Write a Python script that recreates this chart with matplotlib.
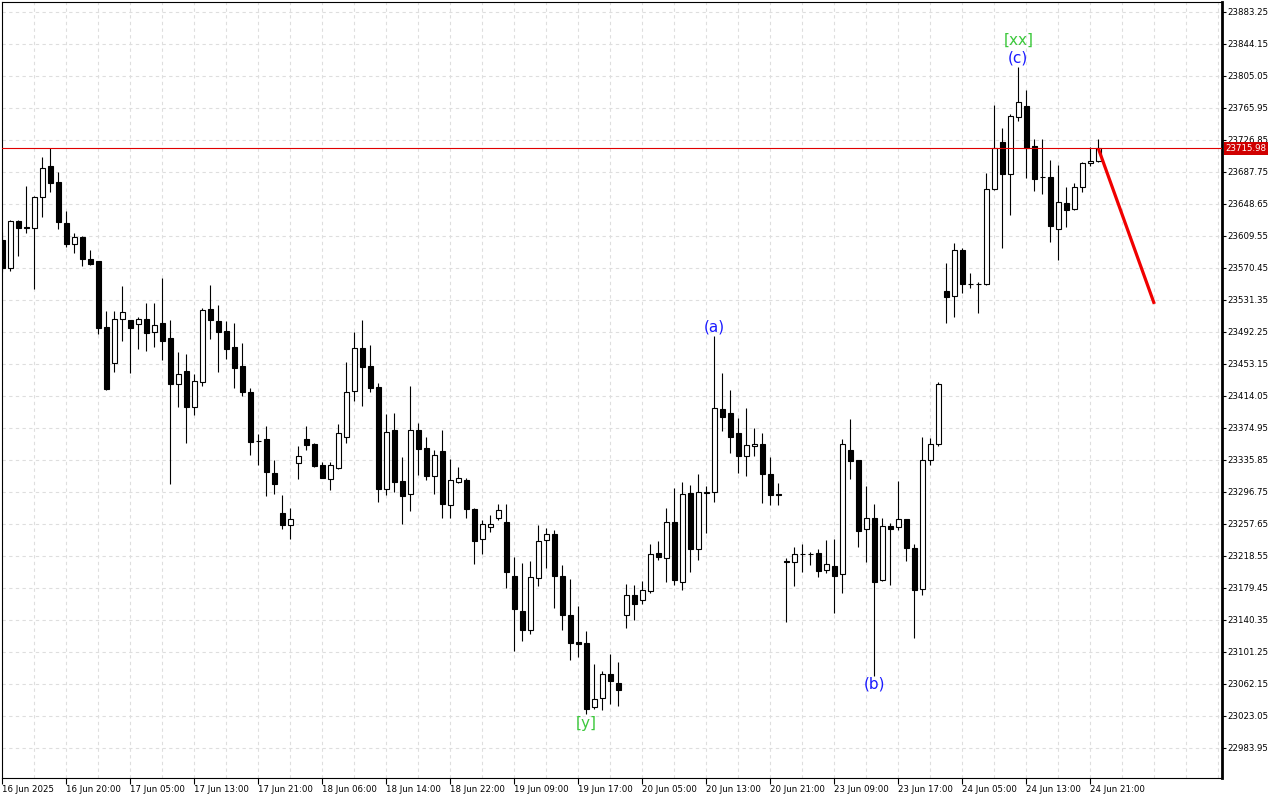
import matplotlib
matplotlib.use("Agg")
import matplotlib.pyplot as plt
import matplotlib.transforms as mtransforms

# hourly candles, 16 Jun 2025 12:00 .. 24 Jun 2025 21:00
opens = [
    23604.0, 23569.4, 23627.2, 23619.6, 23618.4, 23656.2, 23694.1, 23674.5, 23624.4, 23598.8,
    23607.8, 23580.4, 23578.2, 23497.4, 23453.3, 23507.1, 23505.9, 23501.0, 23507.5, 23491.2,
    23502.6, 23483.9, 23427.7, 23444.0, 23399.6, 23430.2, 23519.7, 23505.1, 23492.5, 23473.3,
    23450.0, 23418.3, 23358.5, 23360.9, 23319.3, 23270.4, 23255.4, 23331.9, 23360.9, 23354.8,
    23329.1, 23311.6, 23325.1, 23362.9, 23419.2, 23471.7, 23449.7, 23424.1, 23300.1, 23371.5,
    23309.2, 23293.3, 23371.5, 23349.5, 23316.0, 23346.2, 23280.6, 23308.0, 23310.8, 23275.3,
    23238.3, 23253.0, 23264.0, 23259.1, 23193.1, 23150.3, 23127.1, 23191.4, 23237.1, 23244.4,
    23193.1, 23145.5, 23112.5, 23111.2, 23033.0, 23044.0, 23073.7, 23062.7, 23145.5, 23169.9,
    23163.8, 23175.2, 23221.2, 23215.1, 23259.5, 23186.5, 23294.9, 23226.1, 23296.0, 23295.7,
    23397.5, 23392.3, 23367.9, 23339.8, 23351.9, 23354.4, 23318.1, 23293.5, 23211.5, 23210.2,
    23221.0, 23220.7, 23221.2, 23200.4, 23205.4, 23196.5, 23347.4, 23335.2, 23250.5, 23264.3,
    23189.0, 23254.6, 23253.0, 23262.8, 23227.7, 23178.0, 23334.9, 23354.4, 23541.7, 23536.0,
    23591.8, 23550.5, 23550.0, 23549.9, 23666.0, 23723.4, 23685.1, 23754.0, 23767.8, 23718.9,
    23681.3, 23681.0, 23617.9, 23648.9, 23642.3, 23668.4, 23697.8, 23700.2,
]
highs = [
    23614.0, 23628.4, 23628.4, 23670.0, 23657.8, 23705.1, 23716.1, 23686.7, 23639.5, 23612.2,
    23609.0, 23591.8, 23579.0, 23517.3, 23517.3, 23547.8, 23506.5, 23509.6, 23526.9, 23526.9,
    23557.6, 23505.9, 23467.2, 23464.7, 23440.0, 23521.3, 23549.0, 23524.6, 23505.1, 23502.6,
    23478.2, 23422.8, 23366.6, 23376.4, 23334.9, 23292.5, 23276.6, 23352.3, 23376.4, 23355.5,
    23332.4, 23332.4, 23378.8, 23455.3, 23491.6, 23505.9, 23475.4, 23428.9, 23391.1, 23392.7,
    23338.9, 23425.3, 23380.4, 23362.9, 23347.8, 23371.9, 23336.4, 23326.7, 23313.3, 23276.2,
    23261.5, 23268.0, 23281.4, 23281.4, 23216.3, 23209.7, 23211.4, 23255.8, 23251.8, 23249.3,
    23206.9, 23189.5, 23156.8, 23126.3, 23085.6, 23077.4, 23098.2, 23088.4, 23183.3, 23182.1,
    23187.4, 23232.6, 23236.2, 23276.2, 23300.6, 23308.0, 23304.7, 23318.1, 23303.1, 23486.7,
    23441.5, 23420.8, 23386.2, 23398.4, 23373.9, 23367.9, 23338.9, 23306.8, 23215.5, 23228.6,
    23232.2, 23223.2, 23226.1, 23237.1, 23239.1, 23360.5, 23385.3, 23335.8, 23303.5, 23281.4,
    23264.7, 23257.9, 23309.6, 23263.3, 23232.6, 23363.3, 23361.7, 23430.9, 23575.6, 23600.7,
    23593.9, 23563.3, 23553.1, 23686.3, 23768.6, 23740.5, 23757.6, 23815.1, 23787.0, 23727.5,
    23727.5, 23701.8, 23695.3, 23668.4, 23673.3, 23699.0, 23717.3, 23727.5,
]
lows = [
    23565.0, 23566.5, 23584.8, 23612.2, 23544.5, 23632.5, 23663.0, 23617.5, 23595.8, 23587.8,
    23572.2, 23573.8, 23488.8, 23421.1, 23443.1, 23481.0, 23441.9, 23471.2, 23468.7, 23473.6,
    23457.7, 23306.2, 23400.3, 23356.3, 23390.5, 23426.0, 23483.1, 23442.4, 23458.6, 23423.5,
    23413.8, 23341.3, 23329.1, 23291.6, 23294.1, 23250.9, 23239.1, 23312.4, 23347.8, 23327.0,
    23313.0, 23298.9, 23324.5, 23356.3, 23407.7, 23401.6, 23418.7, 23284.3, 23292.8, 23296.5,
    23257.4, 23273.3, 23317.3, 23310.8, 23294.1, 23264.7, 23264.7, 23307.5, 23264.7, 23208.5,
    23220.7, 23246.9, 23261.5, 23179.2, 23102.2, 23113.7, 23122.9, 23180.9, 23203.6, 23154.8,
    23127.1, 23090.5, 23094.1, 23024.5, 23030.6, 23029.4, 23036.7, 23034.3, 23129.6, 23139.4,
    23158.9, 23173.1, 23213.4, 23186.5, 23182.1, 23176.0, 23198.7, 23213.4, 23246.4, 23284.3,
    23371.0, 23344.1, 23319.7, 23316.0, 23340.5, 23283.1, 23280.6, 23280.6, 23137.6, 23181.6,
    23198.7, 23207.3, 23192.6, 23196.8, 23148.7, 23173.3, 23311.7, 23229.3, 23211.0, 23071.7,
    23187.4, 23182.9, 23250.0, 23212.2, 23118.1, 23170.6, 23329.5, 23352.7, 23502.2, 23510.3,
    23539.6, 23545.0, 23515.2, 23549.3, 23665.1, 23594.6, 23635.0, 23749.8, 23680.2, 23664.3,
    23660.6, 23601.9, 23579.2, 23620.3, 23641.1, 23662.3, 23694.8, 23699.8,
]
closes = [
    23570.0, 23627.2, 23619.1, 23618.4, 23656.2, 23691.6, 23674.0, 23625.6, 23598.8, 23607.4,
    23580.4, 23575.0, 23496.9, 23422.3, 23507.1, 23515.6, 23496.1, 23507.1, 23490.7, 23499.8,
    23480.2, 23427.7, 23440.0, 23399.6, 23431.9, 23518.1, 23506.6, 23492.0, 23471.2, 23448.0,
    23418.7, 23357.6, 23358.0, 23320.6, 23306.3, 23256.2, 23263.1, 23340.1, 23353.9, 23328.2,
    23313.6, 23328.7, 23367.9, 23417.9, 23471.7, 23449.2, 23423.6, 23300.1, 23369.8, 23308.7,
    23291.6, 23371.5, 23349.0, 23316.0, 23341.0, 23281.8, 23310.4, 23312.9, 23275.7, 23236.6,
    23256.6, 23256.6, 23273.8, 23197.9, 23152.8, 23127.1, 23191.9, 23235.9, 23244.4, 23193.1,
    23146.2, 23112.0, 23110.1, 23030.6, 23042.8, 23073.7, 23064.8, 23053.8, 23169.9, 23158.9,
    23176.0, 23220.0, 23217.1, 23259.5, 23188.2, 23293.3, 23226.1, 23295.7, 23295.2, 23398.4,
    23388.1, 23362.9, 23340.5, 23353.2, 23355.1, 23318.5, 23292.8, 23293.0, 23210.5, 23220.0,
    23220.0, 23220.3, 23199.9, 23207.8, 23193.9, 23354.4, 23334.4, 23248.8, 23264.3, 23185.8,
    23254.6, 23250.5, 23262.8, 23228.1, 23176.7, 23335.2, 23354.4, 23427.7, 23534.8, 23591.8,
    23550.6, 23550.0, 23550.5, 23666.0, 23716.1, 23685.1, 23755.2, 23772.3, 23716.8, 23679.0,
    23680.8, 23621.5, 23650.1, 23641.1, 23668.4, 23697.8, 23700.2, 23715.98,
]

time_labels = [
    "16 Jun 2025", "16 Jun 20:00", "17 Jun 05:00", "17 Jun 13:00", "17 Jun 21:00",
    "18 Jun 06:00", "18 Jun 14:00", "18 Jun 22:00", "19 Jun 09:00", "19 Jun 17:00",
    "20 Jun 05:00", "20 Jun 13:00", "20 Jun 21:00", "23 Jun 09:00", "23 Jun 17:00",
    "24 Jun 05:00", "24 Jun 13:00", "24 Jun 21:00",
]
price_ticks = [
    22983.95, 23023.05, 23062.15, 23101.25, 23140.35, 23179.45, 23218.55, 23257.65,
    23296.75, 23335.85, 23374.95, 23414.05, 23453.15, 23492.25, 23531.35, 23570.45,
    23609.55, 23648.65, 23687.75, 23726.85, 23765.95, 23805.05, 23844.15, 23883.25,
]
current_price = 23715.98

# wave marks: (bar, label, above/below, offset in points, colour)
wave_marks = [
    (127, "[xx]", "high", 19.5, "#3cc83c"),
    (127, "(c)", "high", 6.5, "#1a1aff"),
    (89, "(a)", "high", 6.5, "#1a1aff"),
    (109, "(b)", "low", -6, "#1a1aff"),
    (73, "[y]", "low", -6.5, "#3cc83c"),
]
forecast_bars = [137, 144]
forecast_prices = [23715.98, 23526.0]

fig = plt.figure(figsize=(12.8, 8), dpi=100)
ax = fig.add_axes([2 / 1280, 22 / 800, 1220 / 1280, 776 / 800])

x = list(range(len(opens)))
ax.vlines(x, lows, highs, color="black", linewidth=0.8, zorder=2)
bottoms = [min(o, c) for o, c in zip(opens, closes)]
heights = [abs(c - o) for o, c in zip(opens, closes)]
faces = ["white" if c >= o else "black" for o, c in zip(opens, closes)]
ax.bar(x, heights, bottom=bottoms, width=0.62, color=faces,
       edgecolor="black", linewidth=0.8, zorder=3)

ax.axhline(current_price, color="#e00000", linewidth=0.8, zorder=4)
ax.plot(forecast_bars, forecast_prices, color="#f00000", linewidth=2.3,
        solid_capstyle="butt", zorder=5)

for bar, label, side, off, col in wave_marks:
    y = highs[bar] if side == "high" else lows[bar]
    ax.annotate(label, (bar, y), xytext=(0, off), textcoords="offset points",
                ha="center", va="center", color=col, fontsize=11, zorder=6)

ax.set_xlim(-0.04, 152.46)
ax.set_ylim(22946.7, 23894.9)

ax.set_xticks(range(0, 8 * len(time_labels), 8))
ax.set_xticklabels(time_labels)
ax.set_xticks(range(0, 153, 4), minor=True)
for t in ax.get_xticklabels():
    t.set_horizontalalignment("left")
ax.tick_params(axis="x", which="major", direction="out", length=4, width=0.8,
               pad=1, labelsize=6.2)
ax.tick_params(axis="x", which="minor", length=0)

ax.yaxis.tick_right()
ax.set_yticks(price_ticks)
ax.set_yticklabels([f"{p:.2f}" for p in price_ticks])
ax.tick_params(axis="y", direction="out", length=3, width=0.8, pad=1,
               labelsize=6.2)

grid_style = dict(color="#dedede", linestyle=(0, (3, 3)), linewidth=0.8)
ax.grid(True, which="both", axis="x", **grid_style)
ax.grid(True, which="major", axis="y", **grid_style)
ax.set_axisbelow(True)

for side in ["left", "top", "bottom"]:
    ax.spines[side].set_linewidth(0.8)
ax.spines["right"].set_linewidth(2)

trans = mtransforms.blended_transform_factory(ax.transAxes, ax.transData)
ax.text(1.003, current_price, f"{current_price:.2f}", transform=trans,
        ha="left", va="center", color="white", fontsize=6.2, zorder=7,
        bbox=dict(boxstyle="square,pad=0.2", facecolor="#d00000", edgecolor="none"),
        clip_on=False)

fig.savefig("out.png", dpi=100)
